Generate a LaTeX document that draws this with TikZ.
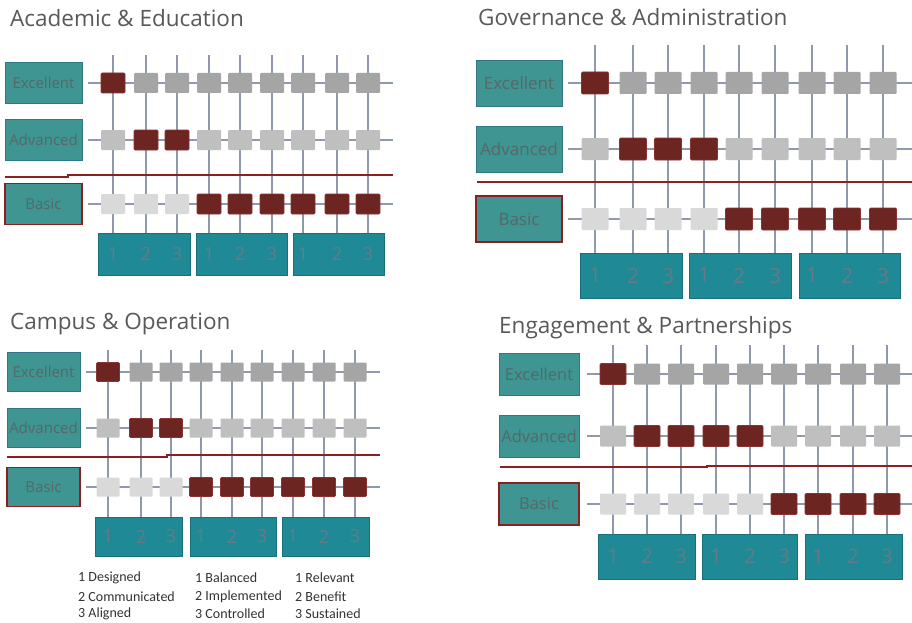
\documentclass[tikz,border=0pt]{standalone}
\usepackage{fontspec}
\setmainfont{Carlito}
\newfontfamily\osans{Open Sans}
\definecolor{gridc}{HTML}{8E9AAB}
\definecolor{redc}{HTML}{6D2522}
\definecolor{redb}{HTML}{8A3232}
\definecolor{greyE}{HTML}{A5A5A5}
\definecolor{greyA}{HTML}{BFBFBF}
\definecolor{greyB}{HTML}{D9D9D9}
\definecolor{lblfill}{HTML}{3E9591}
\definecolor{lbldraw}{HTML}{2E7688}
\definecolor{numfill}{HTML}{1F8A95}
\definecolor{numdraw}{HTML}{1B6F7C}
\definecolor{lbltext}{HTML}{566868}
\definecolor{numtext}{HTML}{687A88}
\definecolor{titlec}{HTML}{595959}
\definecolor{sepc}{HTML}{8B2020}
\tikzset{
  gridline/.style={draw=gridc, line width=1.3pt},
  sq/.style={inner sep=0pt, rounded corners=1pt, minimum width=\sw pt, minimum height=\sh pt},
  sqR/.style={fill=redc, draw=redb, line width=0.6pt},
  sqE/.style={fill=greyE},
  sqA/.style={fill=greyA},
  sqB/.style={fill=greyB},
  lbl/.style={fill=lblfill, draw=lbldraw, line width=0.8pt, inner sep=0pt, text=lbltext,
              minimum width=\lw pt, minimum height=\lh pt, font=\osans\fontsize{\lfs}{\lfs}\selectfont},
  lblbasic/.style={lbl, draw=sepc, line width=1.2pt},
  numbox/.style={fill=numfill, draw=numdraw, line width=0.6pt, inner sep=0pt},
  numtxt/.style={text=numtext, inner sep=0pt, font=\osans\fontsize{\nfs}{\nfs}\selectfont},
  sepline/.style={draw=sepc, line width=1.2pt},
  title/.style={anchor=base west, inner sep=0pt, text=titlec, font=\osans\fontsize{22.5}{23}\selectfont},
  legend/.style={anchor=west, inner sep=0pt, text=black!80, font=\fontsize{14}{14}\selectfont}
}
\newcommand\drawpanel{%
  % number boxes
  \pgfmathsetmacro\bcy{(\bt+\bb)/2}
  \pgfmathsetmacro\bh{\bb-\bt}
  \foreach \a/\b [count=\k] in \bxs {
    \pgfmathsetmacro\bcx{(\a+\b)/2}
    \pgfmathsetmacro\bw{\b-\a}
    \node[numbox, minimum width=\bw pt, minimum height=\bh pt] (\P-g\k) at (\bcx,\bcy) {};
  }
  % vertical grid lines
  \foreach \x [count=\i] in \colxs {
    \coordinate (\P-t\i) at (\x,\vt);
    \coordinate (\P-b\i) at (\x,\vb);
    \draw[gridline] (\P-t\i) -- (\P-b\i);
  }
  % horizontal grid lines
  \coordinate (\P-lE) at (\hx,\ye); \coordinate (\P-rE) at (\hxr,\ye);
  \coordinate (\P-lA) at (\hx,\ya); \coordinate (\P-rA) at (\hxr,\ya);
  \coordinate (\P-lB) at (\hx,\yb); \coordinate (\P-rB) at (\hxr,\yb);
  \draw[gridline] (\P-lE) -- (\P-rE);
  \draw[gridline] (\P-lA) -- (\P-rA);
  \draw[gridline] (\P-lB) -- (\P-rB);
  % squares and numbers
  \foreach \x [count=\i] in \colxs {
    \ifnum\i=1 \def\cc{sqR}\else\def\cc{sqE}\fi
    \node[sq,\cc] (\P-E\i) at (\x,\ye) {};
    \def\cc{sqA}\ifnum\i>1 \ifnum\i<\numexpr\na+1\relax \def\cc{sqR}\fi\fi
    \node[sq,\cc] (\P-A\i) at (\x,\ya) {};
    \ifnum\i>\nb \def\cc{sqR}\else\def\cc{sqB}\fi
    \node[sq,\cc] (\P-B\i) at (\x,\yb) {};
    \pgfmathtruncatemacro\nn{mod(\i-1,3)+1}
    \node[numtxt] (\P-n\i) at (\x,\bcy) {\nn};
  }
  % label boxes
  \node[lbl] (\P-exc) at (\lcx,\ye) {Excellent};
  \node[lbl] (\P-adv) at (\lcx,\ya) {Advanced};
  \node[lblbasic] (\P-bas) at (\lcx,\yb) {Basic};
  % separator
  \coordinate (\P-s1) at (\sxa,\sya);
  \coordinate (\P-s2) at (\sxs,\sya);
  \coordinate (\P-s3) at (\sxs,\syb);
  \coordinate (\P-s4) at (\sxb,\syb);
  \draw[sepline] (\P-s1) -- (\P-s2) -- (\P-s3) -- (\P-s4);
}
\begin{document}
\begin{tikzpicture}[x=1pt,y=-1pt]
\useasboundingbox[fill=white] (0,0) rectangle (912,623);
% ---------- Panel 1
\node[title] (t1) at (10,27) {Academic \& Education};
\def\P{p1}
\def\colxs{113,146,177,209,240,272,303,337,368}
\def\vt{55}\def\vb{233}
\def\ye{83}\def\ya{140}\def\yb{204}
\def\hx{88}\def\hxr{393}
\def\sw{24}\def\sh{20}
\def\na{3}\def\nb{3}
\def\lcx{43.5}\def\lw{77}\def\lh{41}\def\lfs{15}
\def\sxa{5}\def\sya{177}\def\sxs{68}\def\syb{175}\def\sxb{393}
\def\bt{233}\def\bb{275}\def\bxs{98/190,196/287,293/384}
\def\nfs{18}
\drawpanel
% ---------- Panel 2
\node[title] (t2) at (478,26) {Governance \& Administration};
\def\P{p2}
\def\colxs{595,633,668,704,739,775,812,847,883}
\def\vt{45}\def\vb{253}
\def\ye{83}\def\ya{149}\def\yb{219}
\def\hx{568}\def\hxr{912}
\def\sw{27}\def\sh{22}
\def\na{4}\def\nb{4}
\def\lcx{519}\def\lw{86}\def\lh{46}\def\lfs{17}
\def\sxa{477}\def\sya{182}\def\sxs{600}\def\syb{182}\def\sxb{912}
\def\bt{253}\def\bb{298}\def\bxs{580/682,689/791,799/900}
\def\nfs{21}
\drawpanel
% ---------- Panel 3
\node[title] (t3) at (10,329) {Campus \& Operation};
\def\P{p3}
\def\colxs{108,141,171,201,232,262,293,324,355}
\def\vt{350}\def\vb{517}
\def\ye{372}\def\ya{428}\def\yb{487}
\def\hx{86}\def\hxr{380}
\def\sw{23}\def\sh{19}
\def\na{3}\def\nb{3}
\def\lcx{43.5}\def\lw{73}\def\lh{39}\def\lfs{15}
\def\sxa{7}\def\sya{457}\def\sxs{167}\def\syb{455}\def\sxb{380}
\def\bt{517}\def\bb{556}\def\bxs{95/182,190/276,282/369}
\def\nfs{18}
\drawpanel
% ---------- Panel 4
\node[title] (t4) at (499,333) {Engagement \& Partnerships};
\def\P{p4}
\def\colxs{613,647,681,716,750,784,818,853,887}
\def\vt{345}\def\vb{534}
\def\ye{374}\def\ya{436}\def\yb{504}
\def\hx{587}\def\hxr{912}
\def\sw{26}\def\sh{21}
\def\na{5}\def\nb{5}
\def\lcx{539}\def\lw{80}\def\lh{42}\def\lfs{16.5}
\def\sxa{500}\def\sya{467}\def\sxs{707}\def\syb{466}\def\sxb{912}
\def\bt{534}\def\bb{579}\def\bxs{598/695,702/797,805/902}
\def\nfs{20}
\drawpanel
% ---------- Legend
\node[legend] (L11) at (78,578) {1 Designed};
\node[legend] (L12) at (78,597) {2 Communicated};
\node[legend] (L13) at (78,614) {3 Aligned};
\node[legend] (L21) at (195,578) {1 Balanced};
\node[legend] (L22) at (195,597) {2 Implemented};
\node[legend] (L23) at (195,614) {3 Controlled};
\node[legend] (L31) at (295,578) {1 Relevant};
\node[legend] (L32) at (295,597) {2 Benefit};
\node[legend] (L33) at (295,614) {3 Sustained};
\end{tikzpicture}
\end{document}
